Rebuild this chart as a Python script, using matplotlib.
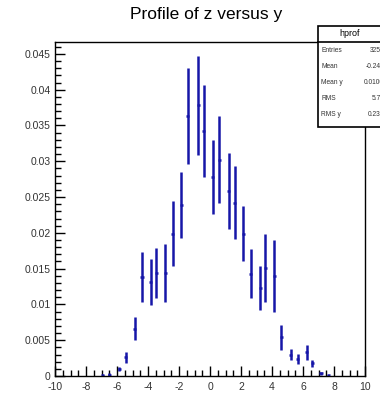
import matplotlib
matplotlib.use('Agg')

import matplotlib.pyplot as plt
from matplotlib.patches import Rectangle
from matplotlib.lines import Line2D
from matplotlib.ticker import MultipleLocator, FuncFormatter

plt.rcParams['font.family'] = ['Liberation Sans', 'DejaVu Sans']
plt.rcParams['axes.unicode_minus'] = False

# profile bins (y), mean z and error on mean
y_vals = [-6.93, -6.49, -5.84, -5.45, -4.85, -4.39, -3.83, -3.46, -2.88, -2.40,
          -1.84, -1.45, -0.76, -0.41, 0.17, 0.61, 1.21, 1.60, 2.16, 2.62,
          3.23, 3.57, 4.16, 4.61, 5.22, 5.67, 6.25, 6.60, 7.16, 7.64]
z_mean = [0.0001, 0.0002, 0.0010, 0.0026, 0.0066, 0.0138, 0.0131, 0.0144, 0.0144, 0.0199,
          0.0239, 0.0363, 0.0378, 0.0342, 0.0278, 0.0302, 0.0258, 0.0242, 0.0199, 0.0143,
          0.0123, 0.0151, 0.0140, 0.0054, 0.0030, 0.0024, 0.0033, 0.0018, 0.0004, 0.0001]
z_err = [0.0001, 0.0002, 0.0003, 0.0008, 0.0016, 0.0035, 0.0032, 0.0035, 0.0040, 0.0046,
         0.0046, 0.0067, 0.0069, 0.0064, 0.0052, 0.0061, 0.0053, 0.0051, 0.0039, 0.0034,
         0.0031, 0.0048, 0.0050, 0.0017, 0.0008, 0.0007, 0.0010, 0.0005, 0.0002, 0.0001]
half_bin = 0.1

stat_names = ['Entries', 'Mean', 'Mean y', 'RMS', 'RMS y']
stat_values = ['32559', '-0.2459', '0.01006', '5.766', '0.2302']

W, H = 380, 394
fig = plt.figure(figsize=(W / 100, H / 100), dpi=100)
ax = fig.add_axes([55 / W, 1 - 376 / H, 310 / W, (376 - 41.7) / H])

ax.errorbar(y_vals, z_mean, yerr=z_err, xerr=half_bin, fmt='none',
            ecolor='#1616a8', elinewidth=1.8, capsize=0)

ax.set_xlim(-10, 10)
ax.set_ylim(0, 0.0467)
ax.xaxis.set_major_locator(MultipleLocator(2))
ax.xaxis.set_minor_locator(MultipleLocator(0.5))
ax.yaxis.set_major_locator(MultipleLocator(0.005))
ax.yaxis.set_minor_locator(MultipleLocator(0.001))
ax.yaxis.set_major_formatter(FuncFormatter(lambda v, p: '%g' % round(v, 4)))
ax.xaxis.set_major_formatter(FuncFormatter(lambda v, p: '%g' % v))
ax.tick_params(which='both', direction='in', top=False, right=False,
               labelsize=7.5, labelcolor='#333333', width=1)
ax.tick_params(which='major', length=7)
ax.tick_params(which='minor', length=4)
ax.tick_params(axis='x', which='major', pad=4.5)
ax.tick_params(axis='y', which='major', pad=3)
for s in ax.spines.values():
    s.set_linewidth(1)

fig.text(206 / W, 1 - 15 / H, 'Profile of z versus y', ha='center', va='center',
         fontsize=12.5)

# stats box (runs past the right edge of the canvas, as in the original)
bx0, bx1 = 318 / W, 384 / W
by_top, by_sep, by_bot = 1 - 26 / H, 1 - 41.7 / H, 1 - 127.3 / H
fig.add_artist(Rectangle((bx0, by_bot), bx1 - bx0, by_top - by_bot,
                         transform=fig.transFigure, facecolor='white',
                         edgecolor='black', linewidth=1.2, clip_on=False))
fig.add_artist(Line2D([bx0, bx1], [by_sep, by_sep], transform=fig.transFigure,
                      color='black', linewidth=1.2))
fig.text(350 / W, 1 - 34 / H, 'hprof', ha='center', va='center', fontsize=6.5)
for i, (n, v) in enumerate(zip(stat_names, stat_values)):
    yy = 1 - (51 + 16 * i) / H
    fig.text(321 / W, yy, n, ha='left', va='center', fontsize=4.8, color='#333333')
    fig.text(388 / W, yy, v, ha='right', va='center', fontsize=4.8, color='#333333')

fig.savefig('out.png', dpi=100)
